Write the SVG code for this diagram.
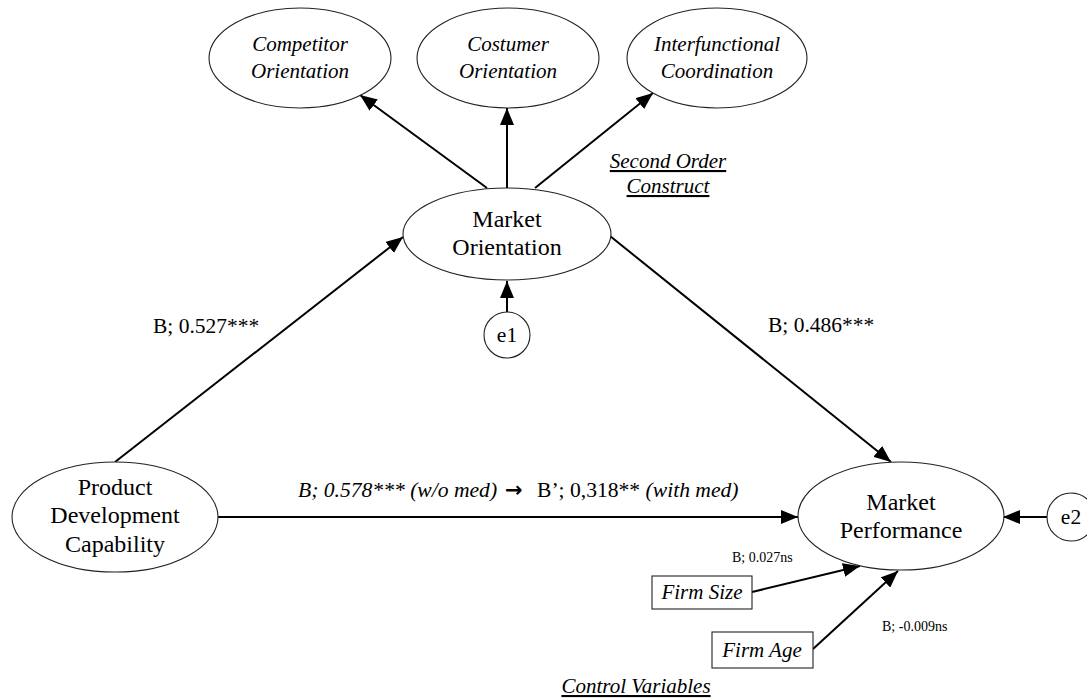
<svg xmlns="http://www.w3.org/2000/svg" width="1087" height="699" viewBox="0 0 1087 699">
<style>
  .node { fill: #fff; stroke: #222; stroke-width: 1.1; }
  .conn { stroke: #000; stroke-width: 2; fill: none; }
  .t { font-family: 'Liberation Serif', 'Times New Roman', serif; fill: #000; }
  .big { font-size: 24px; }
  .it { font-style: italic; font-size: 21px; }
  .lab { font-size: 21.5px; }
  .small { font-size: 14px; }
</style>
<defs>
  <marker id="ah" markerUnits="userSpaceOnUse" markerWidth="17" markerHeight="14" refX="17" refY="7" orient="auto">
    <path d="M0,0 L17,7 L0,14 z" fill="#000"/>
  </marker>
</defs>
<rect width="1087" height="699" fill="#fff"/>

<g id="connectors">
  <line class="conn" x1="487" y1="188" x2="360" y2="95" marker-end="url(#ah)"/>
  <line class="conn" x1="507" y1="188" x2="507" y2="108" marker-end="url(#ah)"/>
  <line class="conn" x1="535" y1="188" x2="653" y2="93" marker-end="url(#ah)"/>
  <line class="conn" x1="115" y1="462" x2="403" y2="237" marker-end="url(#ah)"/>
  <line class="conn" x1="610" y1="236" x2="891" y2="462" marker-end="url(#ah)"/>
  <line class="conn" x1="507" y1="312" x2="507" y2="281" marker-end="url(#ah)"/>
  <line class="conn" x1="218" y1="517" x2="798" y2="517" marker-end="url(#ah)"/>
  <line class="conn" x1="1047" y1="517" x2="1003" y2="517" marker-end="url(#ah)"/>
  <line class="conn" x1="752" y1="592" x2="860" y2="566" marker-end="url(#ah)"/>
  <line class="conn" x1="813" y1="649" x2="898" y2="571" marker-end="url(#ah)"/>
</g>

<g id="competitor-orientation">
  <ellipse class="node" cx="300" cy="58" rx="91" ry="50"/>
  <text class="t it" x="300" y="51" text-anchor="middle">Competitor</text>
  <text class="t it" x="300" y="78" text-anchor="middle">Orientation</text>
</g>
<g id="costumer-orientation">
  <ellipse class="node" cx="508" cy="58" rx="91" ry="50"/>
  <text class="t it" x="508" y="51" text-anchor="middle">Costumer</text>
  <text class="t it" x="508" y="78" text-anchor="middle">Orientation</text>
</g>
<g id="interfunctional-coordination">
  <ellipse class="node" cx="717" cy="58" rx="90" ry="50"/>
  <text class="t it" x="717" y="51" text-anchor="middle">Interfunctional</text>
  <text class="t it" x="717" y="78" text-anchor="middle">Coordination</text>
</g>
<g id="market-orientation">
  <ellipse class="node" cx="507" cy="234" rx="104" ry="46"/>
  <text class="t big" x="507" y="227" text-anchor="middle">Market</text>
  <text class="t big" x="507" y="255" text-anchor="middle">Orientation</text>
</g>
<g id="e1">
  <circle class="node" cx="507" cy="335" r="23"/>
  <text class="t lab" x="507" y="342" text-anchor="middle">e1</text>
</g>
<g id="product-development-capability">
  <ellipse class="node" cx="115" cy="517" rx="103" ry="55"/>
  <text class="t big" x="115" y="495" text-anchor="middle">Product</text>
  <text class="t big" x="115" y="523" text-anchor="middle">Development</text>
  <text class="t big" x="115" y="552" text-anchor="middle">Capability</text>
</g>
<g id="market-performance">
  <ellipse class="node" cx="901" cy="516" rx="103" ry="54"/>
  <text class="t big" x="901" y="510" text-anchor="middle">Market</text>
  <text class="t big" x="901" y="538" text-anchor="middle">Performance</text>
</g>
<g id="e2">
  <circle class="node" cx="1071" cy="517" r="24"/>
  <text class="t lab" x="1071" y="524" text-anchor="middle">e2</text>
</g>
<g id="firm-size">
  <rect class="node" x="652" y="576" width="100" height="33"/>
  <text class="t it" x="702" y="599" text-anchor="middle">Firm Size</text>
</g>
<g id="firm-age">
  <rect class="node" x="712" y="632" width="101" height="36"/>
  <text class="t it" x="762" y="657" text-anchor="middle">Firm Age</text>
</g>

<g id="labels">
  <text class="t lab" x="153" y="333">B; 0.527***</text>
  <text class="t lab" x="768" y="332">B; 0.486***</text>
  <text class="t" font-size="21.6" y="497"><tspan x="298" font-style="italic">B; 0.578*** (w/o med)</tspan><tspan x="505" y="497" font-family="'DejaVu Sans', sans-serif" font-weight="bold" font-size="21">→</tspan><tspan x="537" y="497">B’; 0,318** </tspan><tspan font-style="italic">(with med)</tspan></text>
  <text class="t small" x="732" y="562">B; 0.027ns</text>
  <text class="t small" x="882" y="631">B; -0.009ns</text>
  <text class="t it" x="668" y="168" text-anchor="middle" text-decoration="underline">Second Order</text>
  <text class="t it" x="668" y="193" text-anchor="middle" text-decoration="underline">Construct</text>
  <text class="t it" x="636" y="693" text-anchor="middle" text-decoration="underline">Control Variables</text>
</g>
</svg>
